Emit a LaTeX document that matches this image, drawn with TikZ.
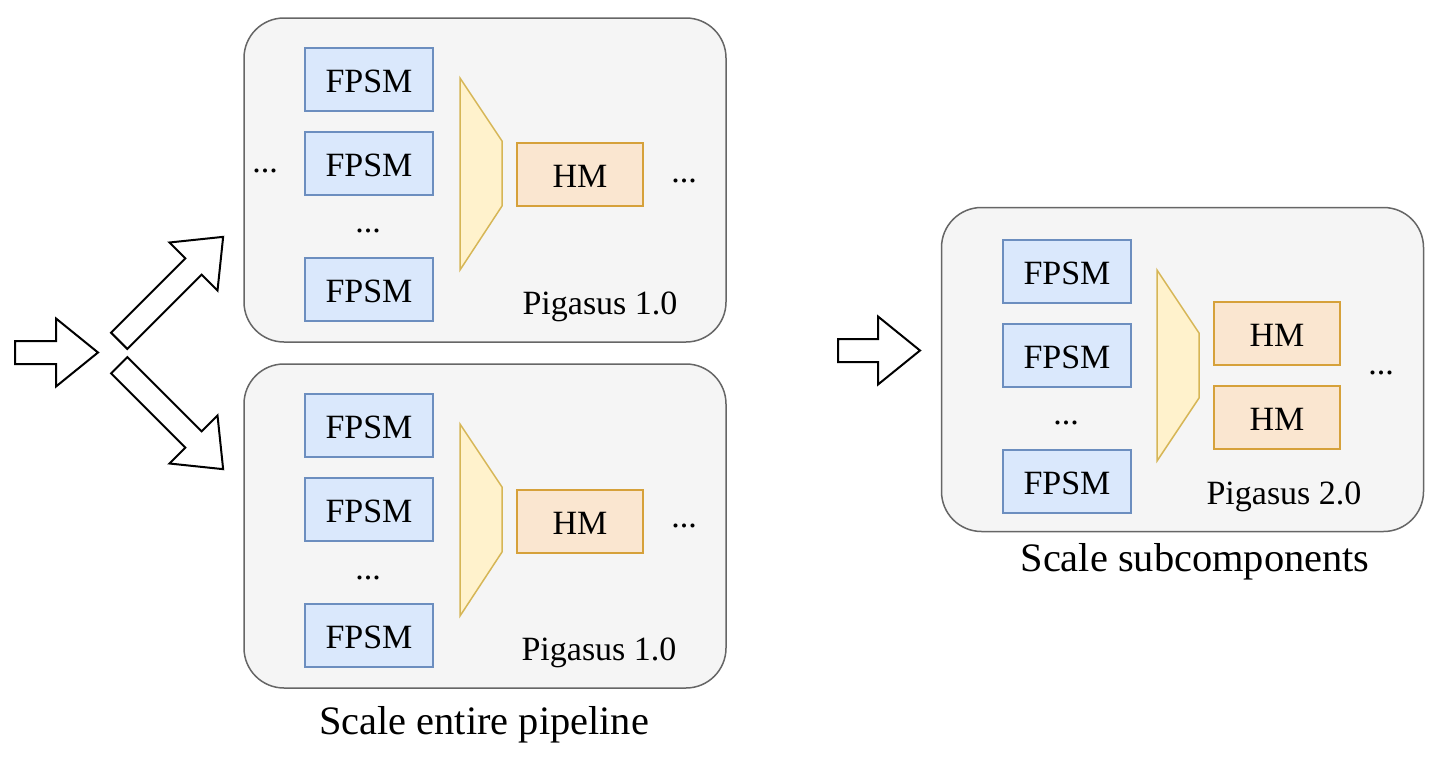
\documentclass[tikz,border=0pt]{standalone}
\usepackage{fontspec}
\setmainfont{Liberation Serif}
\usetikzlibrary{shapes.arrows}
\definecolor{boxfill}{HTML}{F5F5F5}
\definecolor{boxline}{HTML}{666666}
\definecolor{fpsmfill}{HTML}{DAE8FC}
\definecolor{fpsmline}{HTML}{6C8EBF}
\definecolor{hmfill}{HTML}{FAE6D0}
\definecolor{hmline}{HTML}{D6A13A}
\definecolor{muxfill}{HTML}{FFF2CC}
\definecolor{muxline}{HTML}{D6B656}

\begin{document}
\begin{tikzpicture}[x=0.5pt,y=-0.5pt]
\useasboundingbox (0,0) rectangle (1440,760);
\tikzset{PipeBox/.style={draw=boxline,fill=boxfill,line width=0.75pt,rounded corners=20pt,minimum width=241pt,minimum height=162pt,inner sep=0pt}}
\tikzset{Fpsm/.style={draw=fpsmline,fill=fpsmfill,line width=0.75pt,minimum width=64pt,minimum height=31.5pt,inner sep=0pt,text height=13.2pt,text depth=0pt,font=\fontsize{17}{20}\selectfont}}
\tikzset{Hm/.style={draw=hmline,fill=hmfill,line width=0.75pt,minimum width=63pt,minimum height=31.5pt,inner sep=0pt,text height=13.2pt,text depth=0pt,font=\fontsize{17}{20}\selectfont}}
\tikzset{Mux/.style={draw=muxline,fill=muxfill,line width=0.75pt}}
\tikzset{Dots/.style={inner sep=0pt,font=\fontsize{17}{20}\selectfont}}
\tikzset{Label/.style={inner sep=0pt,anchor=base,font=\fontsize{17}{20}\selectfont}}
\tikzset{Caption/.style={inner sep=0pt,anchor=base,font=\fontsize{20.2}{24}\selectfont}}
\tikzset{BlockArrow/.style={single arrow,draw=black,fill=white,line width=1pt,inner sep=5.25pt,single arrow head extend=11.25pt,single arrow tip angle=78,minimum width=0pt,anchor=tail}}

\node[PipeBox] (pipeA) at (485,180) {};
\node[PipeBox] (pipeB) at (485,526) {};
\node[PipeBox] (pipeC) at (1182.5,369.5) {};

\node[Fpsm] (a1) at (369,79.5) {FPSM};
\node[Fpsm] (a2) at (369,163.5) {FPSM};
\node[Dots] (a3) at (368,231) {...};
\node[Fpsm] (a4) at (369,289.5) {FPSM};
\node[Dots] (aL) at (265,171) {...};
\draw[Mux] (460,78) -- (502,141) -- (502,206) -- (460,270) -- cycle;
\node[Hm] (ahm) at (580,174.5) {HM};
\node[Dots] (aR) at (684,181) {...};
\node[Label] (aname) at (600,314) {Pigasus 1.0};

\node[Fpsm] (b1) at (369,425.5) {FPSM};
\node[Fpsm] (b2) at (369,509.5) {FPSM};
\node[Dots] (b3) at (368,578) {...};
\node[Fpsm] (b4) at (369,635.5) {FPSM};
\draw[Mux] (460,424) -- (502,487) -- (502,552) -- (460,616) -- cycle;
\node[Hm] (bhm) at (580,521.5) {HM};
\node[Dots] (bR) at (684,526) {...};
\node[Label] (bname) at (599,660) {Pigasus 1.0};

\node[Fpsm] (c1) at (1067,271.5) {FPSM};
\node[Fpsm] (c2) at (1067,355.5) {FPSM};
\node[Dots] (c3) at (1066,423) {...};
\node[Fpsm] (c4) at (1067,481.5) {FPSM};
\draw[Mux] (1157,270) -- (1199,333) -- (1199,398) -- (1157,461) -- cycle;
\node[Hm] (chm1) at (1277,333.5) {HM};
\node[Hm] (chm2) at (1277,417.5) {HM};
\node[Dots] (cR) at (1381,373) {...};
\node[Label] (cname) at (1284,504) {Pigasus 2.0};

\node[BlockArrow,minimum height=41.5pt] (inarrow) at (14,352.5) {};
\node[BlockArrow,minimum height=73.5pt,rotate=45] (uparrow) at (118.5,341.5) {};
\node[BlockArrow,minimum height=73.5pt,rotate=-45] (downarrow) at (118.5,364.5) {};
\node[BlockArrow,minimum height=41pt] (midarrow) at (837,350.5) {};

\node[Caption] (capA) at (484,734) {Scale entire pipeline};
\node[Caption] (capC) at (1195,571) {Scale subcomponents};
\end{tikzpicture}
\end{document}
